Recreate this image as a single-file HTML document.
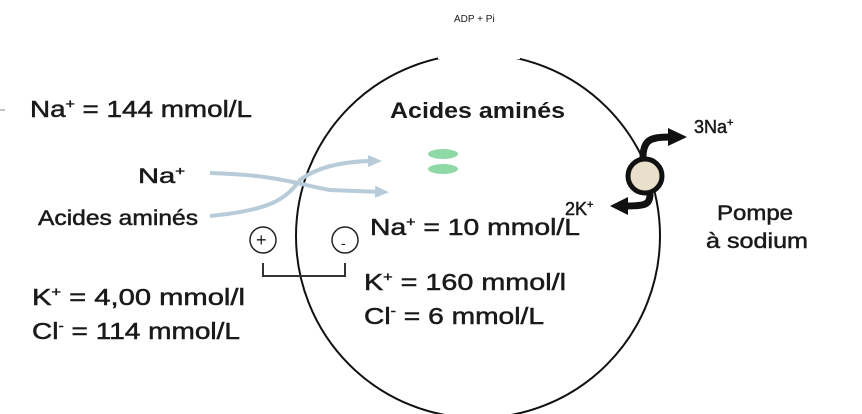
<!DOCTYPE html>
<html><head><meta charset="utf-8"><style>
html,body{margin:0;padding:0;background:#fff;width:862px;height:414px;overflow:hidden}
svg{display:block}
text{font-family:"Liberation Sans",sans-serif;fill:#1a1a1a}
.b{stroke:#1a1a1a;stroke-width:0.5}
</style></head><body>
<svg width="862" height="414" viewBox="0 0 862 414" xmlns="http://www.w3.org/2000/svg">
<defs>
<marker id="ab" markerWidth="14" markerHeight="14" refX="7" refY="7" orient="auto" markerUnits="userSpaceOnUse" viewBox="0 0 14 14"><path d="M0,1 L14,7 L0,13 z" fill="#b8cbd8"/></marker>
</defs>
<text x="454" y="22" font-size="10" fill="#444">ADP + Pi</text>
<circle cx="478" cy="236" r="182" fill="none" stroke="#111" stroke-width="2"/>
<rect x="438" y="45" width="82" height="14" fill="#fff"/>
<line x1="0" y1="110" x2="5" y2="110" stroke="#888"/>
<text class="b" x="30" y="117" font-size="23" textLength="222" lengthAdjust="spacingAndGlyphs">Na<tspan font-size="13" dy="-9">+</tspan><tspan dy="9"> = 144 mmol/L</tspan></text>
<text class="b" x="138" y="183" font-size="21" textLength="47" lengthAdjust="spacingAndGlyphs">Na<tspan font-size="12" dy="-8">+</tspan></text>
<text class="b" x="38" y="225" font-size="21" textLength="160" lengthAdjust="spacingAndGlyphs">Acides aminés</text>
<text x="390" y="118" font-size="22" font-weight="bold" textLength="175" lengthAdjust="spacingAndGlyphs">Acides aminés</text>
<ellipse cx="443" cy="154" rx="15" ry="5" fill="#8fd9a6"/>
<ellipse cx="443" cy="169" rx="15" ry="5" fill="#8fd9a6"/>
<path d="M210,173 C280,175 300,185 330,190 L382,192" stroke="#b8cbd8" stroke-width="4" fill="none" marker-end="url(#ab)"/>
<path d="M210,216 C270,210 285,200 300,180 C320,165 350,161 375,161" stroke="#b8cbd8" stroke-width="4" fill="none" marker-end="url(#ab)"/>
<circle cx="263" cy="240" r="13" fill="none" stroke="#222" stroke-width="1.5"/>
<text x="256" y="246" font-size="18">+</text>
<circle cx="345" cy="240" r="13" fill="none" stroke="#222" stroke-width="1.5"/>
<text x="341" y="248" font-size="14">-</text>
<path d="M263,263 V276 H345 V263" fill="none" stroke="#333" stroke-width="2"/>
<text class="b" x="370" y="235" font-size="23" textLength="210" lengthAdjust="spacingAndGlyphs">Na<tspan font-size="13" dy="-9">+</tspan><tspan dy="9"> = 10 mmol/L</tspan></text>
<text class="b" x="565" y="215" font-size="18">2K<tspan font-size="11" dy="-7">+</tspan></text>
<text class="b" x="364" y="290" font-size="23" textLength="202" lengthAdjust="spacingAndGlyphs">K<tspan font-size="13" dy="-9">+</tspan><tspan dy="9"> = 160 mmol/l</tspan></text>
<text class="b" x="364" y="324" font-size="23" textLength="180" lengthAdjust="spacingAndGlyphs">Cl<tspan font-size="13" dy="-9">-</tspan><tspan dy="9"> = 6 mmol/L</tspan></text>
<text class="b" x="32" y="305" font-size="23" textLength="213" lengthAdjust="spacingAndGlyphs">K<tspan font-size="13" dy="-9">+</tspan><tspan dy="9"> = 4,00 mmol/l</tspan></text>
<text class="b" x="32" y="339" font-size="23" textLength="208" lengthAdjust="spacingAndGlyphs">Cl<tspan font-size="13" dy="-9">-</tspan><tspan dy="9"> = 114 mmol/L</tspan></text>
<!-- pump -->
<path d="M643,158 C643,140 650,137 670,137" stroke="#111" stroke-width="7" fill="none"/>
<path d="M668,128 L687,137 L668,146 z" fill="#111"/>
<path d="M650,194 C650,205 645,206 625,206" stroke="#111" stroke-width="7" fill="none"/>
<path d="M628,197 L610,206 L628,215 z" fill="#111"/>
<circle cx="645" cy="176" r="17" fill="#e9dfcb" stroke="#111" stroke-width="5"/>
<text class="b" x="694" y="133" font-size="18">3Na<tspan font-size="11" dy="-7">+</tspan></text>
<text class="b" x="717" y="220" font-size="21" textLength="76" lengthAdjust="spacingAndGlyphs">Pompe</text>
<text class="b" x="706" y="248" font-size="21" textLength="102" lengthAdjust="spacingAndGlyphs">à sodium</text>
</svg>
</body></html>
